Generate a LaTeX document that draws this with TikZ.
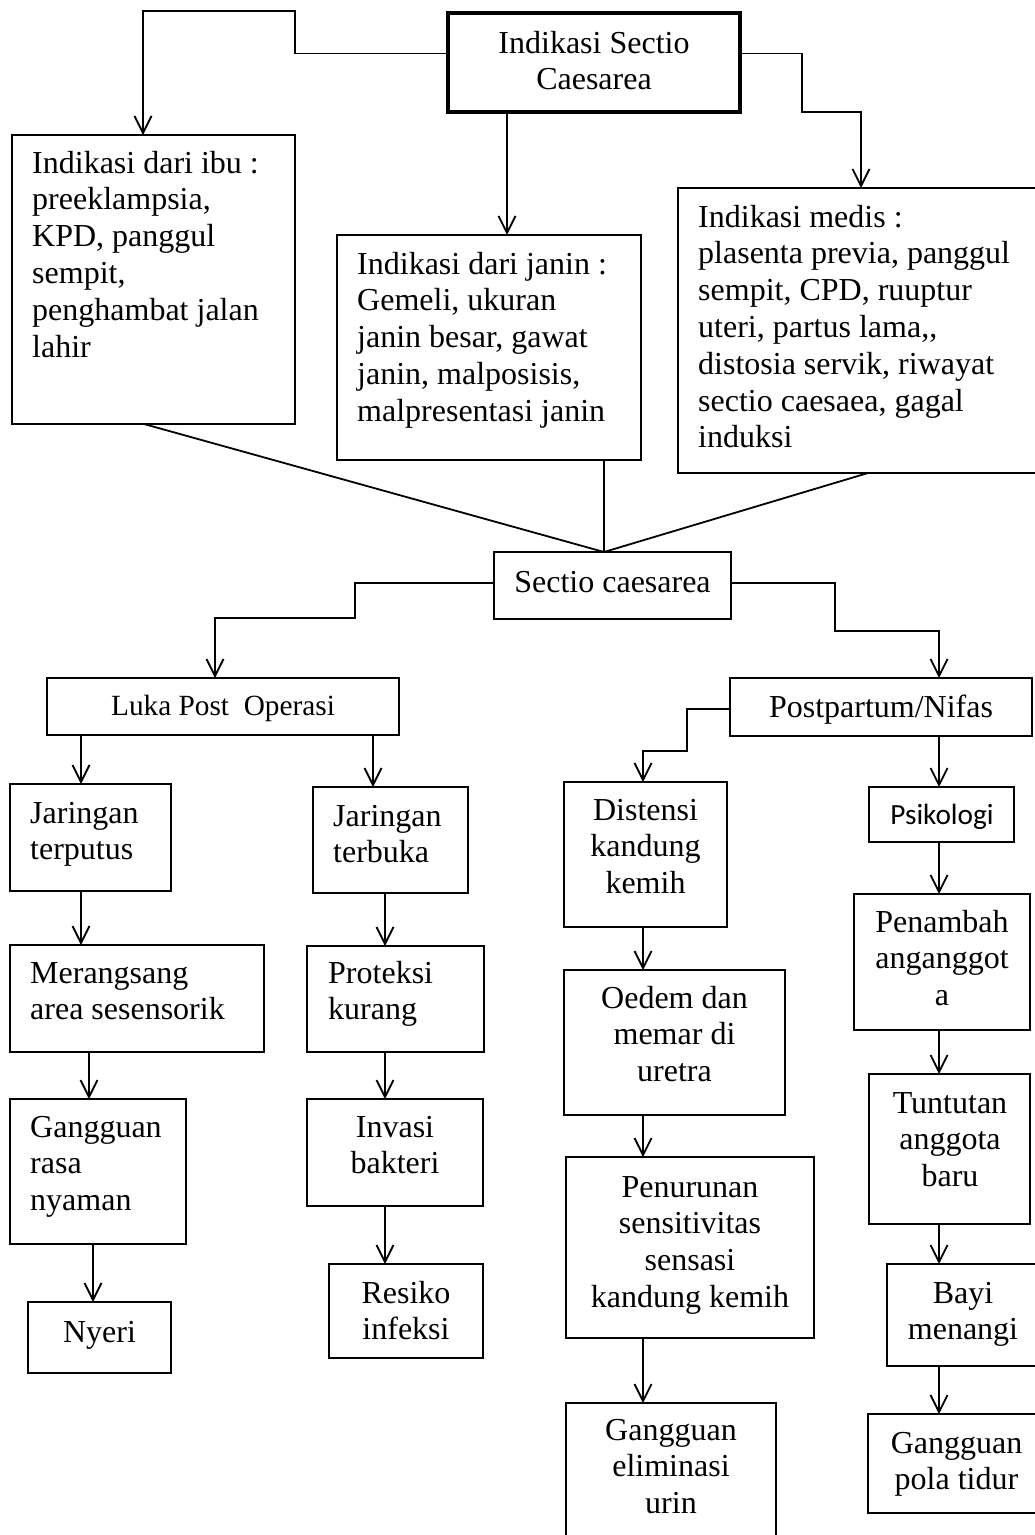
\documentclass[tikz,border=0pt]{standalone}
\usepackage{fontspec}
\setmainfont{Liberation Serif}
\newfontfamily\calibfont{Carlito}
\usetikzlibrary{arrows.meta}
\newcommand\lefttxt[1]{\vtop{\halign{##\hfil\cr#1\crcr}}}
\newcommand\centxt[1]{\vtop{\halign{\hfil##\hfil\cr#1\crcr}}}
\newcommand\boxat[5]{\node[box, anchor=north west, minimum width={(#4-#2)*1pt}, minimum height={(#5-#3)*1pt}] (#1) at (#2,#3) {};}
\tikzset{
  box/.style={draw, line width=1.3pt, inner sep=0pt, outer sep=0pt},
  txt/.style={inner sep=0pt, font=\fontsize{32}{36.8}\selectfont},
  smalltxt/.style={inner sep=0pt, font=\fontsize{29.3}{33.7}\selectfont},
  sanstxt/.style={inner sep=0pt, font=\calibfont\fontsize{29.3}{35.7}\selectfont},
  arr/.style={line width=1.8pt, -{Straight Barb[length=17pt,width=17pt]}},
  ln/.style={line width=1.8pt}
}
\begin{document}
\begin{tikzpicture}[x=1pt,y=-1pt]
\useasboundingbox (0,0) rectangle (1035,1535);
\fill[white] (0,0) rectangle (1035,1535);
\clip (0,0) rectangle (1035,1535);

% boxes
\node[box, line width=4pt, anchor=north west, minimum width=292pt, minimum height=99pt] (top) at (448,13) {};
\boxat{ibu}{12}{135}{295}{424}
\boxat{janin}{337}{235}{641}{460}
\boxat{medis}{678}{188}{1045}{473}
\boxat{sc}{494}{552}{731}{619}
\boxat{luka}{47}{678}{399}{735}
\boxat{pp}{730}{678}{1032}{736}
\boxat{jt1}{10}{784}{171}{891}
\boxat{jt2}{313}{787}{468}{893}
\boxat{mer}{10}{945}{264}{1052}
\boxat{pro}{307}{946}{484}{1052}
\boxat{gg}{10}{1099}{186}{1244}
\boxat{ny}{28}{1302}{171}{1373}
\boxat{inv}{307}{1099}{483}{1206}
\boxat{res}{329}{1264}{483}{1358}
\boxat{dis}{564}{782}{727}{927}
\boxat{oed}{564}{970}{785}{1115}
\boxat{pen}{566}{1157}{814}{1338}
\boxat{gel}{566}{1403}{776}{1550}
\boxat{psi}{869}{787}{1014}{842}
\boxat{pnb}{854}{894}{1030}{1030}
\boxat{tun}{869}{1074}{1030}{1224}
\boxat{bayi}{887}{1264}{1045}{1366}
\boxat{gpt}{868}{1414}{1045}{1513}

% texts
\node[txt, anchor=base] (topT) at (594,53) {\centxt{Indikasi Sectio\cr Caesarea}};
\node[txt, anchor=base west] (ibuT) at (32,173) {\lefttxt{Indikasi dari ibu :\cr preeklampsia,\cr KPD, panggul\cr sempit,\cr penghambat jalan\cr lahir}};
\node[txt, anchor=base west] (janinT) at (357,274) {\lefttxt{Indikasi dari janin :\cr Gemeli, ukuran\cr janin besar, gawat\cr janin, malposisis,\cr malpresentasi janin}};
\node[txt, anchor=base west] (medisT) at (698,227) {\lefttxt{Indikasi medis :\cr plasenta previa, panggul\cr sempit, CPD, ruuptur\cr uteri, partus lama,{},\cr distosia servik, riwayat\cr sectio caesaea, gagal\cr induksi}};
\node[txt, anchor=base] (scT) at (612.5,592) {Sectio caesarea};
\node[smalltxt, anchor=base] (lukaT) at (223,715) {Luka Post\ \ Operasi};
\node[txt, anchor=base] (ppT) at (881,717) {Postpartum/Nifas};
\node[txt, anchor=base west] (jt1T) at (30,823) {\lefttxt{Jaringan\cr terputus}};
\node[txt, anchor=base west] (jt2T) at (333,826) {\lefttxt{Jaringan\cr terbuka}};
\node[txt, anchor=base west] (merT) at (30,983) {\lefttxt{Merangsang\cr area sesensorik}};
\node[txt, anchor=base west] (proT) at (328,983) {\lefttxt{Proteksi\cr kurang}};
\node[txt, anchor=base west] (ggT) at (30,1137) {\lefttxt{Gangguan\cr rasa\cr nyaman}};
\node[txt, anchor=base] (nyT) at (99.5,1342) {Nyeri};
\node[txt, anchor=base] (invT) at (395,1137) {\centxt{Invasi\cr bakteri}};
\node[txt, anchor=base] (resT) at (406,1303) {\centxt{Resiko\cr infeksi}};
\node[txt, anchor=base] (disT) at (645.5,820) {\centxt{Distensi\cr kandung\cr kemih}};
\node[txt, anchor=base] (oedT) at (674.5,1008) {\centxt{Oedem dan\cr memar di\cr uretra}};
\node[txt, anchor=base] (penT) at (690,1197) {\centxt{Penurunan\cr sensitivitas\cr sensasi\cr kandung kemih}};
\node[txt, anchor=base] (gelT) at (671,1440) {\centxt{Gangguan\cr eliminasi\cr urin}};
\node[sanstxt, anchor=base] (psiT) at (942,824) {Psikologi};
\node[txt, anchor=base] (pnbT) at (942,932) {\centxt{Penambah\cr anganggot\cr a}};
\node[txt, anchor=base] (tunT) at (950,1113) {\centxt{Tuntutan\cr anggota\cr baru}};
\node[txt, anchor=base] (bayiT) at (963,1303) {\centxt{Bayi\cr menangi}};
\node[txt, anchor=base] (gptT) at (956.5,1453) {\centxt{Gangguan\cr pola tidur}};

% connectors
\draw[arr] ([yshift=9pt]top.west) -| (295,11) -| ([xshift=131pt]ibu.north west);
\draw[arr] ([yshift=9pt]top.east) -| (802,112) -| ([xshift=183pt]medis.north west);
\draw[arr] ([xshift=-87pt]top.south) -- ([xshift=170pt]janin.north west);

\draw[ln] ([xshift=132pt]ibu.south west) -- ([xshift=-8.5pt]sc.north);
\draw[ln] ([xshift=267pt]janin.south west) -- ([xshift=-8.5pt]sc.north);
\draw[ln] ([xshift=190pt]medis.south west) -- ([xshift=-8.5pt]sc.north);

\draw[arr] ([yshift=2.5pt]sc.west) -| (355,618) -| ([xshift=168pt]luka.north west);
\draw[arr] ([yshift=2.5pt]sc.east) -| (835,631) -| ([xshift=209pt]pp.north west);

\draw[arr] ([xshift=34pt]luka.south west) -- ([xshift=71pt]jt1.north west);
\draw[arr] ([xshift=326pt]luka.south west) -- ([xshift=60pt]jt2.north west);
\draw[arr] ([xshift=71pt]jt1.south west) -- ([xshift=71pt]mer.north west);
\draw[arr] ([xshift=72pt]jt2.south west) -- ([xshift=78pt]pro.north west);
\draw[arr] ([xshift=79pt]mer.south west) -- ([xshift=79pt]gg.north west);
\draw[arr] ([xshift=83pt]gg.south west) -- ([xshift=65pt]ny.north west);
\draw[arr] ([xshift=78pt]pro.south west) -- ([xshift=78pt]inv.north west);
\draw[arr] ([xshift=78pt]inv.south west) -- ([xshift=56pt]res.north west);

\draw[arr] ([yshift=-2pt]pp.west) -| (687,751) -| ([xshift=79pt]dis.north west);
\draw[arr] ([xshift=209pt]pp.south west) -- ([xshift=70pt]psi.north west);
\draw[arr] ([xshift=70pt]psi.south west) -- ([xshift=85pt]pnb.north west);
\draw[arr] ([xshift=85pt]pnb.south west) -- ([xshift=70pt]tun.north west);
\draw[arr] ([xshift=70pt]tun.south west) -- ([xshift=52pt]bayi.north west);
\draw[arr] ([xshift=52pt]bayi.south west) -- ([xshift=71pt]gpt.north west);
\draw[arr] ([xshift=79pt]dis.south west) -- ([xshift=79pt]oed.north west);
\draw[arr] ([xshift=79pt]oed.south west) -- ([xshift=77pt]pen.north west);
\draw[arr] ([xshift=77pt]pen.south west) -- ([xshift=77pt]gel.north west);
\end{tikzpicture}
\end{document}
